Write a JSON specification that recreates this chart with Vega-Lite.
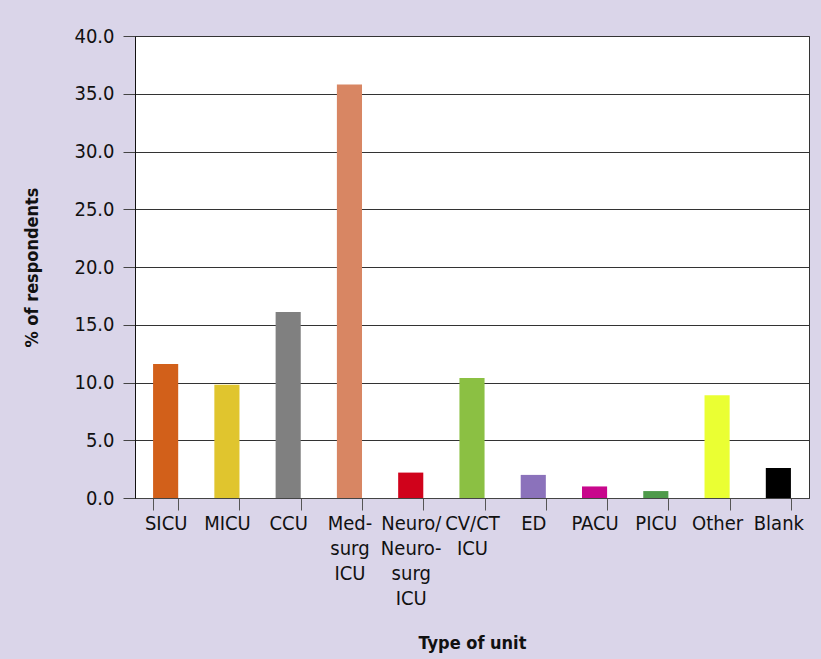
{
  "$schema": "https://vega.github.io/schema/vega-lite/v6.json",
  "autosize": "none",
  "width": 674,
  "height": 462,
  "padding": {"left": 135, "top": 36, "right": 12, "bottom": 161},
  "background": "#DAD5E9",
  "data": {
    "values": [
      {"unit": "SICU", "pct": 11.6, "color": "#D2601A"},
      {"unit": "MICU", "pct": 9.8, "color": "#E0C52E"},
      {"unit": "CCU", "pct": 16.1, "color": "#808080"},
      {"unit": "Med-surg ICU", "pct": 35.8, "color": "#D88663"},
      {"unit": "Neuro/Neurosurg ICU", "pct": 2.2, "color": "#D0021B"},
      {"unit": "CV/CT ICU", "pct": 10.4, "color": "#8BC043"},
      {"unit": "ED", "pct": 2.0, "color": "#8B72BB"},
      {"unit": "PACU", "pct": 1.0, "color": "#C8078C"},
      {"unit": "PICU", "pct": 0.6, "color": "#4E9A4A"},
      {"unit": "Other", "pct": 8.9, "color": "#EAFF33"},
      {"unit": "Blank", "pct": 2.6, "color": "#000000"}
    ]
  },
  "config": {
    "view": {"fill": "white", "stroke": "#333333", "strokeWidth": 1},
    "font": "'DejaVu Sans Condensed', Roboto, sans-serif"
  },
  "mark": {"type": "bar"},
  "encoding": {
    "x": {
      "field": "unit",
      "type": "nominal",
      "sort": null,
      "scale": {"paddingInner": 0.59, "paddingOuter": 0.295},
      "axis": {
        "title": "Type of unit",
        "titleFont": "'DejaVu Sans Condensed', Roboto, sans-serif",
        "titleFontSize": 18,
        "titleFontWeight": "bold",
        "titleColor": "#111111",
        "titleY": 145,
        "titleBaseline": "middle",
        "labelAngle": 0,
        "labelFont": "'DejaVu Sans Condensed', Roboto, sans-serif",
        "labelFontSize": 20,
        "labelColor": "#111111",
        "labelLineHeight": 25,
        "labelPadding": 3,
        "labelBaseline": "top",
        "labelExpr": "datum.value == 'Med-surg ICU' ? ['Med-','surg','ICU'] : datum.value == 'Neuro/Neurosurg ICU' ? ['Neuro/','Neuro-','surg','ICU'] : datum.value == 'CV/CT ICU' ? ['CV/CT','ICU'] : datum.value",
        "tickBand": "extent",
        "tickSize": 12,
        "tickColor": "#555555",
        "domainColor": "#444444",
        "grid": false
      }
    },
    "y": {
      "field": "pct",
      "type": "quantitative",
      "scale": {"domain": [0, 40], "nice": false},
      "axis": {
        "title": "% of respondents",
        "titleFont": "'DejaVu Sans Condensed', Roboto, sans-serif",
        "titleFontSize": 18,
        "titleFontWeight": "bold",
        "titleColor": "#111111",
        "titleX": -103,
        "titleBaseline": "middle",
        "values": [0, 5, 10, 15, 20, 25, 30, 35, 40],
        "format": ".1f",
        "labelFont": "'DejaVu Sans Condensed', Roboto, sans-serif",
        "labelFontSize": 20,
        "labelColor": "#111111",
        "labelPadding": 9,
        "tickSize": 12,
        "tickColor": "#444444",
        "domainColor": "#111111",
        "gridColor": "#333333",
        "gridOpacity": 1
      }
    },
    "color": {"field": "color", "type": "nominal", "scale": null, "legend": null}
  }
}
